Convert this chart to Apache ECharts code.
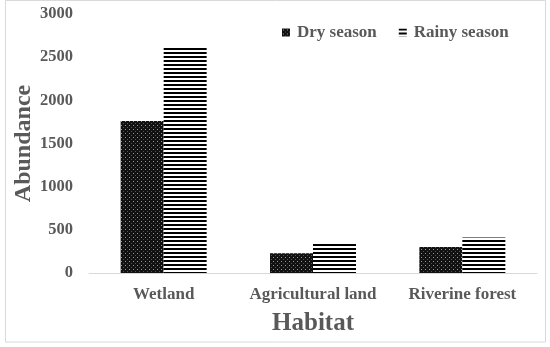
<!DOCTYPE html>
<html><head><meta charset="utf-8">
<script src="https://cdn.jsdelivr.net/npm/echarts@6/dist/echarts.min.js"></script>
<style>html,body{margin:0;padding:0;background:#fff}#c{width:550px;height:347px}</style>
</head><body><div id="c"></div>
<script>
const categories = ['Wetland', 'Agricultural land', 'Riverine forest'];
const drySeason = [1760, 230, 300];
const rainySeason = [2620, 335, 410];
const yTicks = [0, 500, 1000, 1500, 2000, 2500, 3000];

function dotPattern() {
  const c = document.createElement('canvas'); c.width = 4; c.height = 4;
  const g = c.getContext('2d');
  g.fillStyle = '#111'; g.fillRect(0, 0, 4, 4);
  g.fillStyle = '#9a9a9a'; g.fillRect(1, 1, 1, 1);
  g.fillStyle = '#555'; g.fillRect(3, 3, 1, 1);
  return c;
}
function stripePattern() {
  const c = document.createElement('canvas'); c.width = 4; c.height = 4;
  const g = c.getContext('2d');
  g.fillStyle = '#fff'; g.fillRect(0, 0, 4, 4);
  g.fillStyle = '#000'; g.fillRect(0, 0, 4, 2);
  return c;
}
const font = '"Liberation Serif", "Times New Roman", serif';
const txt = '#595959';
const chart = echarts.init(document.getElementById('c'));
chart.setOption({
  animation: false,
  backgroundColor: '#fff',
  grid: { left: 89, right: 13, top: 14, bottom: 74, containLabel: false, outerBoundsMode: 'none' },
  legend: {
    top: 19, left: 277, itemWidth: 8, itemHeight: 8, itemGap: 22,
    icon: 'rect',
    textStyle: { fontFamily: font, fontWeight: 'bold', fontSize: 17, color: txt, padding: [0, 0, 0, 2] },
    data: ['Dry season', 'Rainy season']
  },
  xAxis: {
    type: 'category', data: categories,
    axisLine: { lineStyle: { color: '#d9d9d9', width: 1 } },
    axisTick: { show: false },
    axisLabel: { interval: 0, fontFamily: font, fontWeight: 'bold', fontSize: 17, color: txt, margin: 13 },
    name: 'Habitat', nameLocation: 'middle', nameGap: 38, nameMoveOverlap: false,
    nameTextStyle: { fontFamily: font, fontWeight: 'bold', fontSize: 25, color: txt }
  },
  yAxis: {
    type: 'value', min: yTicks[0], max: yTicks[yTicks.length - 1], interval: 500,
    splitLine: { show: false },
    axisLine: { show: false }, axisTick: { show: false },
    axisLabel: { formatter: v => String(v), fontFamily: font, fontWeight: 'bold', fontSize: 16.5, color: txt, margin: 16 },
    name: 'Abundance', nameLocation: 'middle', nameGap: 53, nameMoveOverlap: false,
    nameTextStyle: { fontFamily: font, fontWeight: 'bold', fontSize: 24, color: txt }
  },
  series: [
    { name: 'Dry season', type: 'bar', data: drySeason, barWidth: 43, barGap: '0%',
      itemStyle: { color: { image: dotPattern(), repeat: 'repeat' } } },
    { name: 'Rainy season', type: 'bar', data: rainySeason, barWidth: 43, barGap: '0%',
      itemStyle: { color: { image: stripePattern(), repeat: 'repeat' } } }
  ],
  graphic: [{
    type: 'rect', shape: { x: 5.5, y: 0.5, width: 540, height: 341.5 },
    style: { fill: 'none', stroke: '#d9d9d9', lineWidth: 1 }, silent: true
  }]
});
</script></body></html>
